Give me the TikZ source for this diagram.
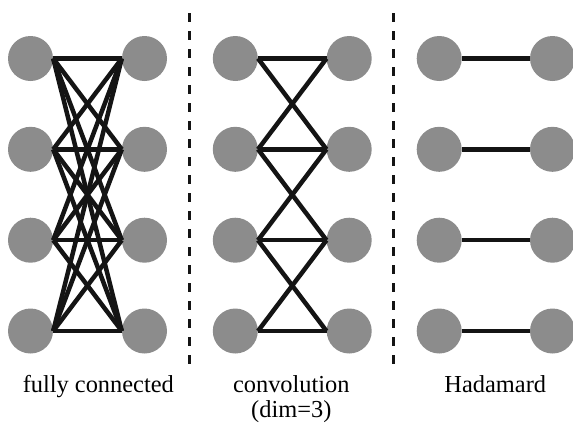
\documentclass[tikz,border=0pt]{standalone}
\usepackage{fontspec}
\setmainfont{Liberation Serif}
\definecolor{nodegray}{HTML}{8C8C8C}
\definecolor{linkblack}{HTML}{141414}
\begin{document}
\begin{tikzpicture}[x=1pt,y=-1pt,
  unit/.style={circle,fill=nodegray,minimum size=45pt,inner sep=0pt},
  link/.style={line width=4.5pt,draw=linkblack},
  divider/.style={line width=3pt,draw=linkblack,dash pattern=on 9pt off 9pt},
  caption/.style={font=\fontsize{24.4}{25.7}\selectfont,anchor=base,align=center,inner sep=0pt}]
\useasboundingbox (0,0) rectangle (573,424);

% three pairs of unit columns
\foreach \i/\y in {1/58.5,2/149.3,3/240.2,4/331} {
  \node[unit] (fa\i) at (30.5,\y) {};
  \node[unit] (fb\i) at (144.5,\y) {};
  \node[unit] (ca\i) at (235.3,\y) {};
  \node[unit] (cb\i) at (349.2,\y) {};
  \node[unit] (ha\i) at (439.2,\y) {};
  \node[unit] (hb\i) at (552.5,\y) {};
}

% fully connected: every input to every output
\foreach \i in {1,...,4}
  \foreach \j in {1,...,4}
    \draw[link] (fa\i.east) -- (fb\j.west);

% convolution with a window of three
\foreach \i in {1,...,4}
  \draw[link] (ca\i.east) -- (cb\i.west);
\foreach \i/\j in {1/2,2/3,3/4} {
  \draw[link] (ca\i.east) -- (cb\j.west);
  \draw[link] (ca\j.east) -- (cb\i.west);
}

% Hadamard: element-wise
\foreach \i in {1,...,4}
  \draw[link] (ha\i.east) -- (hb\i.west);

% dividers
\coordinate (d1top) at (189,13);
\coordinate (d1bot) at (189,367);
\coordinate (d2top) at (393,13);
\coordinate (d2bot) at (393,367);
\draw[divider] (d1top) -- (d1bot);
\draw[divider] (d2top) -- (d2bot);

% captions (the two-line one is placed by its last baseline)
\node[caption] (capf) at (98.3,392) {fully connected};
\node[caption] (capc) at (291.3,417.7) {convolution\\(dim=3)};
\node[caption] (caph) at (495.3,392) {Hadamard};
\end{tikzpicture}
\end{document}
